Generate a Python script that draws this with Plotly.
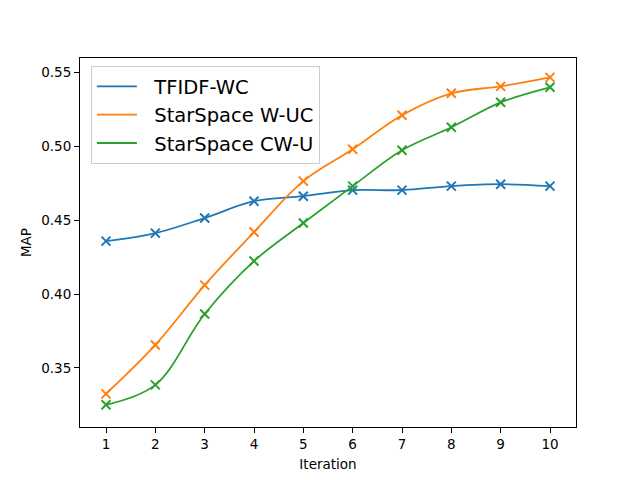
import plotly.graph_objects as go

iterations = [1, 2, 3, 4, 5, 6, 7, 8, 9, 10]
tfidf_wc = [0.4358, 0.4412, 0.4514, 0.4628, 0.4662, 0.4703, 0.4703, 0.4730, 0.4743, 0.4730]
starspace_wuc = [0.3324, 0.3655, 0.4060, 0.4419, 0.4764, 0.4980, 0.5210, 0.5358, 0.5405, 0.5466]
starspace_cwu = [0.3250, 0.3385, 0.3865, 0.4223, 0.4480, 0.4730, 0.4973, 0.5128, 0.5297, 0.5399]

series_names = ["TFIDF-WC", "StarSpace W-UC", "StarSpace CW-U"]
series_values = [tfidf_wc, starspace_wuc, starspace_cwu]
colors = ["#1f77b4", "#ff7f0e", "#2ca02c"]
y_ticks = [0.35, 0.40, 0.45, 0.50, 0.55]

fig = go.Figure()
for name, vals, c in zip(series_names, series_values, colors):
    fig.add_trace(go.Scatter(
        x=iterations, y=vals, mode="lines", name="\u00a0\u00a0" + name,
        line=dict(color=c, width=1.8, shape="spline", smoothing=1.0),
    ))
for name, vals, c in zip(series_names, series_values, colors):
    fig.add_trace(go.Scatter(
        x=iterations, y=vals, mode="markers", showlegend=False,
        marker=dict(symbol="x-thin", size=9, line=dict(color=c, width=2), color=c),
    ))

font = "DejaVu Sans"
fig.update_layout(
    width=624, height=464,
    paper_bgcolor="white", plot_bgcolor="white",
    margin=dict(l=72, r=56, t=50, b=45),
    font=dict(family=font, size=14, color="black"),
    legend=dict(
        x=0.022, y=0.978, xanchor="left", yanchor="top",
        font=dict(family=font, size=19.5, color="black"),
        bgcolor="rgba(255,255,255,0.8)", bordercolor="#cccccc", borderwidth=1,
        tracegroupgap=0, itemwidth=40,
    ),
    showlegend=True,
)
fig.update_xaxes(
    range=[0.473, 10.527], tickvals=iterations, ticktext=[str(i) for i in iterations],
    showgrid=False, zeroline=False, showline=True, linecolor="black", linewidth=1,
    mirror=True, ticks="outside", ticklen=5, tickcolor="black", automargin=False,
    tickfont=dict(family=font, size=13.5),
    title=dict(text="Iteration", font=dict(family=font, size=13.5), standoff=9),
)
fig.update_yaxes(
    range=[0.310, 0.5597], tickvals=y_ticks, ticktext=["%.2f" % v for v in y_ticks],
    showgrid=False, zeroline=False, showline=True, linecolor="black", linewidth=1,
    mirror=True, ticks="outside", ticklen=5, tickcolor="black", automargin=False,
    tickfont=dict(family=font, size=13.5),
    title=dict(text="MAP", font=dict(family=font, size=13.5), standoff=6),
)

fig.write_html("out.html")
